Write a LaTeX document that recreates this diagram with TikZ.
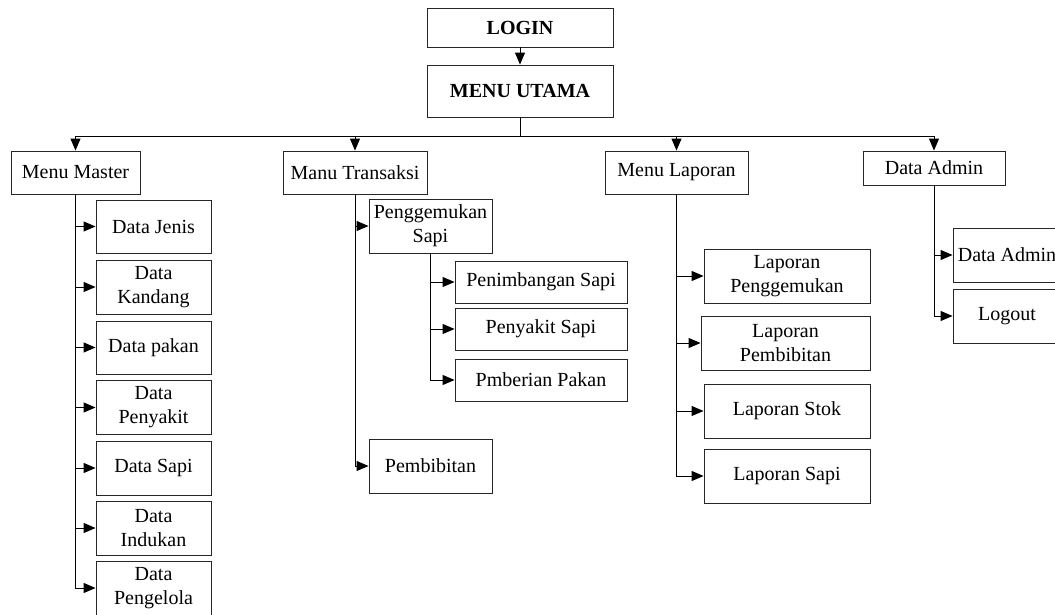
\documentclass[tikz,border=0pt]{standalone}
\usepackage{fontspec}
\setmainfont{Liberation Serif}
\usetikzlibrary{arrows.meta}
\begin{document}
\begin{tikzpicture}[x=1pt,y=-1pt,
  box/.style={draw=black!85, line width=0.9pt, inner sep=0pt, align=center,
    font=\fontsize{20}{24}\selectfont},
  arr/.style={draw=black, line width=1pt, -{Triangle[length=12pt,width=10pt]}},
  link/.style={draw=black, line width=1pt}]
\useasboundingbox (0,0) rectangle (1055,614);
\clip (0,0) rectangle (1055,614);

% top level
\node[box, minimum width=186pt, minimum height=39pt, font=\bfseries\fontsize{20}{24}\selectfont] (login) at (520,27.5) {LOGIN};
\node[box, minimum width=186pt, minimum height=52pt, font=\bfseries\fontsize{20}{24}\selectfont] (menu) at (520,91) {MENU UTAMA};

% main menus
\node[box, minimum width=129pt, minimum height=43pt] (mm) at (75.5,172.5) {Menu Master};
\node[box, minimum width=144pt, minimum height=43pt] (mt) at (355,172.5) {Manu Transaksi};
\node[box, minimum width=143pt, minimum height=43pt] (ml) at (676.5,172.5) {Menu Laporan};
\node[box, minimum width=142pt, minimum height=34pt] (da) at (934,168) {Data Admin};

\coordinate (bar) at (520,136);

% master data
\node[box, minimum width=115pt, minimum height=53pt] (dj)  at (153.5,226.5) {Data Jenis};
\node[box, minimum width=115pt, minimum height=54pt] (dk)  at (153.5,287) {Data\\Kandang};
\node[box, minimum width=115pt, minimum height=53pt] (dp)  at (153.5,347.5) {Data pakan};
\node[box, minimum width=115pt, minimum height=54pt] (dpy) at (153.5,407.5) {Data\\Penyakit};
\node[box, minimum width=115pt, minimum height=54pt] (ds)  at (153.5,468) {Data Sapi};
\node[box, minimum width=115pt, minimum height=54pt] (di)  at (153.5,528) {Data\\Indukan};
\node[box, minimum width=115pt, minimum height=54pt] (dpg) at (153.5,588) {Data\\Pengelola};

% transactions
\node[box, minimum width=123pt, minimum height=54pt] (pg) at (430.5,226) {Penggemukan\\Sapi};
\node[box, minimum width=172pt, minimum height=42pt] (pn) at (541,282) {Penimbangan Sapi};
\node[box, minimum width=172pt, minimum height=42pt] (ps) at (541,329) {Penyakit Sapi};
\node[box, minimum width=172pt, minimum height=42pt] (pp) at (541,380) {Pmberian Pakan};
\node[box, minimum width=123pt, minimum height=54pt] (pb) at (430.5,466) {Pembibitan};

% reports
\node[box, minimum width=166pt, minimum height=54pt] (lpg) at (787,276) {Laporan\\Penggemukan};
\node[box, minimum width=169pt, minimum height=54pt] (lpb) at (785.5,343) {Laporan\\Pembibitan};
\node[box, minimum width=166pt, minimum height=54pt] (ls)  at (787,411) {Laporan Stok};
\node[box, minimum width=166pt, minimum height=54pt] (lsp) at (787,476) {Laporan Sapi};

% admin
\node[box, minimum width=108pt, minimum height=54pt] (da2) at (1007,255) {Data Admin};
\node[box, minimum width=108pt, minimum height=54pt] (lo)  at (1007,316) {Logout};

% connectors, top level
\draw[arr] (login) -- (menu);
\draw[link] (menu.south) -- (bar);
\draw[link] (mm.north |- bar) -- (da.north |- bar);
\foreach \n in {mm,mt,ml,da} \draw[arr] (\n.north |- bar) -- (\n.north);

% master branch
\foreach \n in {dj,dk,dp,dpy,ds,di} \draw[arr] (mm.south |- \n.west) -- (\n.west);
\draw[arr] (mm.south) |- (dpg.west);

% transaction branch
\draw[arr] (mt.south |- pg.west) -- (pg.west);
\draw[arr] (mt.south) |- (pb.west);
\foreach \n in {pn,ps} \draw[arr] (pg.south |- \n.west) -- (\n.west);
\draw[arr] (pg.south) |- (pp.west);

% report branch
\foreach \n in {lpg,lpb,ls} \draw[arr] (ml.south |- \n.west) -- (\n.west);
\draw[arr] (ml.south) |- (lsp.west);

% admin branch
\draw[arr] (da.south |- da2.west) -- (da2.west);
\draw[arr] (da.south) |- (lo.west);
\end{tikzpicture}
\end{document}
